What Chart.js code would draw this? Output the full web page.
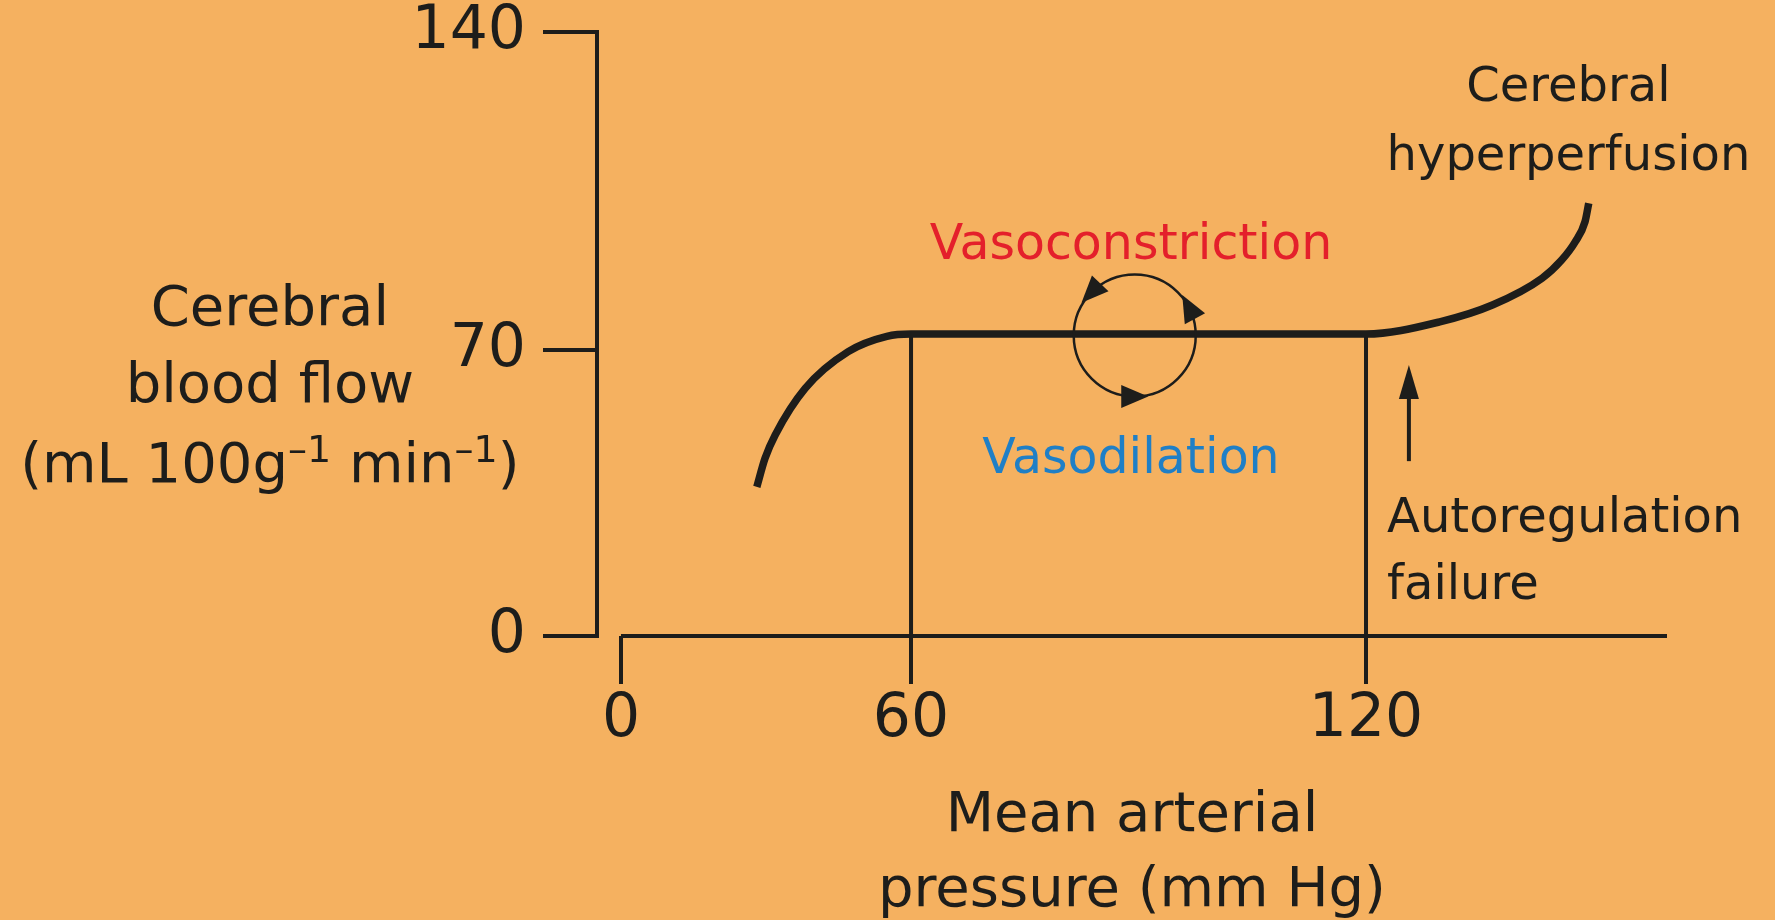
<!DOCTYPE html>
<html>
<head>
<meta charset="utf-8">
<script src="https://cdn.jsdelivr.net/npm/chart.js@4.4.1/dist/chart.umd.min.js"></script>
<style>
  html, body { margin: 0; padding: 0; background: #f5b160; }
</style>
</head>
<body>
<canvas id="cbf" width="1775" height="920"></canvas>
<script>
// Autoregulation curve, values (mm Hg / mL 100g-1 min-1)
// (in the drawing the plateau sits a little above the 70 tick)
const pressure = [28.1, 29.8, 31.9, 38.1, 47.0, 55.0, 60, 120, 129.8, 136.8, 143.4, 146.0, 147.8, 149.1, 149.6];
const flow     = [36.5, 43.5, 49.2, 60.6, 69.6, 73.0, 73.5, 73.5, 76.2, 79.9, 85.8, 89.8, 93.8, 98.2, 102.3];

// limits of the plateau, with drop lines down to the axis
const plateauLimits = [60, 120];
const plateauFlow = 73.5;

// axes
const xTicks = [0, 60, 120];
const yTicks = [0, 70, 140];
const xAxisEnd = 160;

const ink = '#1d1d1b';
const red = '#e4202b';
const blue = '#1f7fc6';
const family = "'DejaVu Sans', sans-serif";

// Both axes in the figure are schematic (tick spacing is not uniform).
// Small linear scale that maps value ranges onto shares of the axis length.
class PiecewiseScale extends Chart.LinearScale {
  _share(v) {
    const s = this.options.stops, f = this.options.shares;
    let i = 1;
    while (i < s.length - 1 && v > s[i]) i++;
    return f[i - 1] + (v - s[i - 1]) / (s[i] - s[i - 1]) * (f[i] - f[i - 1]);
  }
  getPixelForValue(value) {
    return this.getPixelForDecimal(this._share(value));
  }
  getValueForPixel(pixel) {
    const d = this.getDecimalForPixel(pixel);
    const s = this.options.stops, f = this.options.shares;
    let i = 1;
    while (i < f.length - 1 && d > f[i]) i++;
    return s[i - 1] + (d - f[i - 1]) / (f[i] - f[i - 1]) * (s[i] - s[i - 1]);
  }
}
PiecewiseScale.id = 'piecewise';
PiecewiseScale.defaults = Chart.LinearScale.defaults;
Chart.register(PiecewiseScale);

Chart.defaults.font.family = family;
Chart.defaults.color = ink;

const curve = pressure.map((p, i) => ({ x: p, y: flow[i] }));
const dropLines = plateauLimits.map(p => [{ x: p, y: 0 }, { x: p, y: plateauFlow }]);

const lineSet = (data, width) => ({
  data: data,
  borderColor: ink,
  borderWidth: width,
  pointRadius: 0,
  fill: false,
  clip: false,
  borderCapStyle: 'butt'
});

// annotation texts, anchored in data units
const notes = [
  { text: 'Vasoconstriction', at: [89, 90.0], color: red, size: 49 },
  { text: 'Vasodilation', at: [89, 39.9], color: blue, size: 49 },
  { text: 'Cerebral', at: [146.9, 124.8], size: 48 },
  { text: 'hyperperfusion', at: [146.9, 109.6], size: 48 },
  { text: 'Autoregulation', at: [122.8, 25.5], size: 48, align: 'left' },
  { text: 'failure', at: [122.8, 9.1], size: 48, align: 'left' }
];
const cycle = { at: [89.5, 73.2], radius: 61, arrows: [136, 28, -90] };
const failArrow = { x: 125.7, from: 42.8, to: 66.3 };
const yTitle = [
  { parts: [['Cerebral', 0]], at: 75.5 },
  { parts: [['blood flow', 0]], at: 57.2 },
  { parts: [['(mL 100g', 0], ['\u20131', 1], [' min', 0], ['\u20131', 1], [')', 0]], at: 37.8 }
];

const notesPlugin = {
  id: 'notes',
  afterDraw(chart) {
    const { ctx, scales: { x, y } } = chart;
    ctx.save();
    ctx.fillStyle = ink;
    ctx.strokeStyle = ink;

    notes.forEach(n => {
      ctx.font = n.size + 'px ' + family;
      ctx.fillStyle = n.color || ink;
      ctx.textAlign = n.align || 'center';
      ctx.textBaseline = 'alphabetic';
      ctx.fillText(n.text, x.getPixelForValue(n.at[0]), y.getPixelForValue(n.at[1]));
    });

    // y axis title, horizontal, with superscripts
    ctx.fillStyle = ink;
    ctx.textAlign = 'left';
    const cx = y.left + y.width * 0.452;
    yTitle.forEach(line => {
      const fonts = line.parts.map(p => (p[1] ? 38 : 56) + 'px ' + family);
      const widths = line.parts.map((p, i) => { ctx.font = fonts[i]; return ctx.measureText(p[0]).width; });
      let px = cx - widths.reduce((a, b) => a + b, 0) / 2;
      const base = y.getPixelForValue(line.at);
      line.parts.forEach((p, i) => {
        ctx.font = fonts[i];
        ctx.fillText(p[0], px, p[1] ? base - 20 : base);
        px += widths[i];
      });
    });

    // vasoconstriction / vasodilation cycle
    const ox = x.getPixelForValue(cycle.at[0]);
    const oy = y.getPixelForValue(cycle.at[1]);
    ctx.lineWidth = 2.5;
    ctx.beginPath();
    ctx.arc(ox, oy, cycle.radius, 0, Math.PI * 2);
    ctx.stroke();
    cycle.arrows.forEach(deg => {
      const a = deg * Math.PI / 180;
      const px = ox + cycle.radius * Math.cos(a);
      const py = oy - cycle.radius * Math.sin(a);
      const dx = -Math.sin(a), dy = -Math.cos(a);
      const nx = -dy, ny = dx;
      const L = 27, W = 23;
      ctx.beginPath();
      ctx.moveTo(px + dx * L / 2, py + dy * L / 2);
      ctx.lineTo(px - dx * L / 2 + nx * W / 2, py - dy * L / 2 + ny * W / 2);
      ctx.lineTo(px - dx * L / 2 - nx * W / 2, py - dy * L / 2 - ny * W / 2);
      ctx.closePath();
      ctx.fill();
    });

    // autoregulation failure arrow
    const ax = x.getPixelForValue(failArrow.x);
    const ay0 = y.getPixelForValue(failArrow.from);
    const ay1 = y.getPixelForValue(failArrow.to);
    ctx.lineWidth = 4;
    ctx.beginPath();
    ctx.moveTo(ax, ay0);
    ctx.lineTo(ax, ay1 + 30);
    ctx.stroke();
    ctx.beginPath();
    ctx.moveTo(ax, ay1);
    ctx.lineTo(ax - 10, ay1 + 34);
    ctx.lineTo(ax + 10, ay1 + 34);
    ctx.closePath();
    ctx.fill();
    ctx.restore();
  }
};

new Chart(document.getElementById('cbf'), {
  type: 'line',
  data: {
    datasets: [
      Object.assign(lineSet(curve, 7.5), { cubicInterpolationMode: 'monotone' }),
      lineSet(dropLines[0], 4),
      lineSet(dropLines[1], 4),
      lineSet([{ x: xTicks[0], y: 0 }, { x: xAxisEnd, y: 0 }], 4)
    ]
  },
  options: {
    responsive: false,
    animation: false,
    layout: { padding: { top: 32, right: 108, left: 0, bottom: 0 } },
    plugins: { legend: { display: false }, tooltip: { enabled: false } },
    scales: {
      x: {
        type: 'piecewise',
        min: -5,
        max: xAxisEnd,
        stops: [-5, 0, 60, 120, 160],
        shares: [0, 0.0224, 0.2935, 0.7187, 1],
        afterBuildTicks: s => { s.ticks = xTicks.map(v => ({ value: v })); },
        afterFit: s => { s.height = 284; s.paddingLeft = 0; s.paddingRight = 0; },
        border: { display: false },
        grid: { drawOnChartArea: false, drawTicks: true, tickLength: 48, lineWidth: 4, color: ink },
        ticks: { font: { size: 60, lineHeight: 1 }, padding: 6, color: ink, maxRotation: 0, callback: v => String(v) },
        title: {
          display: true,
          text: ['Mean arterial', 'pressure (mm Hg)'],
          color: ink,
          font: { size: 56, lineHeight: 1.34 },
          padding: { top: 0, bottom: -9 }
        }
      },
      y: {
        type: 'piecewise',
        min: 0,
        max: 140,
        stops: [0, 70, 140],
        shares: [0, 0.4735, 1],
        afterBuildTicks: s => { s.ticks = yTicks.map(v => ({ value: v })); },
        afterFit: s => { s.width = 597; s.paddingTop = 0; s.paddingBottom = 0; },
        border: { display: true, color: ink, width: 4 },
        grid: { drawOnChartArea: false, drawTicks: true, tickLength: 54, lineWidth: 4, color: ink },
        ticks: { font: { size: 60, lineHeight: 1 }, padding: 17, color: ink, callback: v => String(v) }
      }
    }
  },
  plugins: [notesPlugin]
});
</script>
</body>
</html>
